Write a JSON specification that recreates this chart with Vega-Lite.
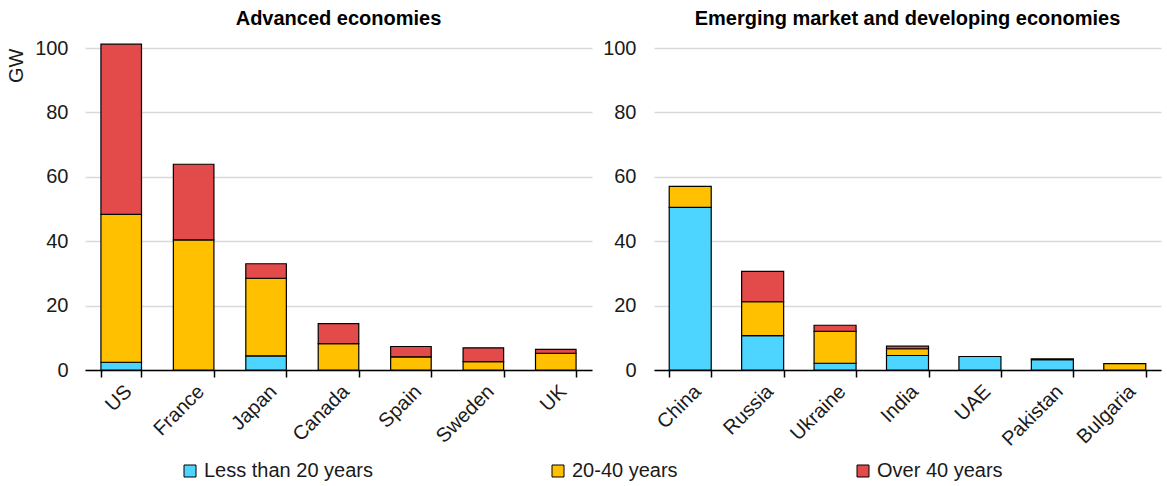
{
  "$schema": "https://vega.github.io/schema/vega-lite/v6.json",
  "background": "white",
  "padding": {"left": 6, "top": 9, "right": 5, "bottom": 5},
  "config": {
    "font": "Liberation Sans",
    "view": {"stroke": null},
    "concat": {"spacing": 10},
    "title": {"fontSize": 20, "fontWeight": "bold", "color": "black", "offset": 9},
    "axis": {"labelFont": "Liberation Sans", "labelFontSize": 20, "labelColor": "#1a1a1a", "titleFont": "Liberation Sans", "titleFontSize": 20, "titleFontWeight": "normal", "titleColor": "#1a1a1a"}
  },
  "datasets": {
    "adv": [
      {"country": "US", "age": "Less than 20 years", "k": 1, "gw": 2.4},
      {"country": "US", "age": "20-40 years", "k": 2, "gw": 45.9},
      {"country": "US", "age": "Over 40 years", "k": 3, "gw": 52.9},
      {"country": "France", "age": "20-40 years", "k": 2, "gw": 40.4},
      {"country": "France", "age": "Over 40 years", "k": 3, "gw": 23.5},
      {"country": "Japan", "age": "Less than 20 years", "k": 1, "gw": 4.4},
      {"country": "Japan", "age": "20-40 years", "k": 2, "gw": 24.1},
      {"country": "Japan", "age": "Over 40 years", "k": 3, "gw": 4.5},
      {"country": "Canada", "age": "20-40 years", "k": 2, "gw": 8.2},
      {"country": "Canada", "age": "Over 40 years", "k": 3, "gw": 6.2},
      {"country": "Spain", "age": "20-40 years", "k": 2, "gw": 4.1},
      {"country": "Spain", "age": "Over 40 years", "k": 3, "gw": 3.2},
      {"country": "Sweden", "age": "20-40 years", "k": 2, "gw": 2.6},
      {"country": "Sweden", "age": "Over 40 years", "k": 3, "gw": 4.3},
      {"country": "UK", "age": "20-40 years", "k": 2, "gw": 5.2},
      {"country": "UK", "age": "Over 40 years", "k": 3, "gw": 1.2}
    ],
    "emd": [
      {"country": "China", "age": "Less than 20 years", "k": 1, "gw": 50.5},
      {"country": "China", "age": "20-40 years", "k": 2, "gw": 6.5},
      {"country": "Russia", "age": "Less than 20 years", "k": 1, "gw": 10.7},
      {"country": "Russia", "age": "20-40 years", "k": 2, "gw": 10.5},
      {"country": "Russia", "age": "Over 40 years", "k": 3, "gw": 9.4},
      {"country": "Ukraine", "age": "Less than 20 years", "k": 1, "gw": 2.1},
      {"country": "Ukraine", "age": "20-40 years", "k": 2, "gw": 9.9},
      {"country": "Ukraine", "age": "Over 40 years", "k": 3, "gw": 1.9},
      {"country": "India", "age": "Less than 20 years", "k": 1, "gw": 4.5},
      {"country": "India", "age": "20-40 years", "k": 2, "gw": 2.1},
      {"country": "India", "age": "Over 40 years", "k": 3, "gw": 0.8},
      {"country": "UAE", "age": "Less than 20 years", "k": 1, "gw": 4.2},
      {"country": "Pakistan", "age": "Less than 20 years", "k": 1, "gw": 3.2},
      {"country": "Pakistan", "age": "20-40 years", "k": 2, "gw": 0.3},
      {"country": "Bulgaria", "age": "20-40 years", "k": 2, "gw": 2.0}
    ]
  },
  "hconcat": [
    {
      "data": {"name": "adv"},
      "title": "Advanced economies",
      "width": 507,
      "height": 322,
      "mark": {"type": "bar", "stroke": "black", "strokeWidth": 1.2},
      "encoding": {
        "x": {"field": "country", "type": "nominal", "sort": ["US", "France", "Japan", "Canada", "Spain", "Sweden", "UK"],
              "scale": {"paddingInner": 0.44, "paddingOuter": 0.22},
              "axis": {"title": null, "labelAngle": -45, "tickBand": "extent", "domainColor": "black", "domainWidth": 1.5, "tickColor": "black", "tickWidth": 1.5, "tickSize": 7, "labelPadding": 4}},
        "y": {"field": "gw", "type": "quantitative", "stack": "zero",
              "scale": {"domain": [0, 100], "nice": false},
              "axis": {"title": "GW", "titleAnchor": "end", "titlePadding": 8, "values": [0, 20, 40, 60, 80, 100], "domain": false, "ticks": false, "labelPadding": 17, "gridColor": "#d9d9d9", "gridWidth": 1.5}},
        "color": {"field": "age", "type": "nominal",
                  "scale": {"domain": ["Less than 20 years", "20-40 years", "Over 40 years"], "range": ["#4DD5FF", "#FFC000", "#E24B4A"]},
                  "legend": {"title": null, "orient": "none", "direction": "horizontal", "legendX": 95, "legendY": 413, "symbolType": "square", "symbolSize": 144, "symbolStrokeColor": "black", "symbolStrokeWidth": 1, "labelFontSize": 20, "labelFont": "Liberation Sans", "labelColor": "#1a1a1a", "labelLimit": 400, "columnPadding": 175, "symbolOffset": 0, "labelOffset": 4}},
        "order": {"field": "k", "type": "quantitative"}
      }
    },
    {
      "data": {"name": "emd"},
      "title": "Emerging market and developing economies",
      "width": 507,
      "height": 322,
      "mark": {"type": "bar", "stroke": "black", "strokeWidth": 1.2},
      "encoding": {
        "x": {"field": "country", "type": "nominal", "sort": ["China", "Russia", "Ukraine", "India", "UAE", "Pakistan", "Bulgaria"],
              "scale": {"paddingInner": 0.42, "paddingOuter": 0.21},
              "axis": {"title": null, "labelAngle": -45, "tickBand": "extent", "domainColor": "black", "domainWidth": 1.5, "tickColor": "black", "tickWidth": 1.5, "tickSize": 7, "labelPadding": 4}},
        "y": {"field": "gw", "type": "quantitative", "stack": "zero",
              "scale": {"domain": [0, 100], "nice": false},
              "axis": {"title": null, "values": [0, 20, 40, 60, 80, 100], "domain": false, "ticks": false, "labelPadding": 18, "gridColor": "#d9d9d9", "gridWidth": 1.5}},
        "color": {"field": "age", "type": "nominal",
                  "scale": {"domain": ["Less than 20 years", "20-40 years", "Over 40 years"], "range": ["#4DD5FF", "#FFC000", "#E24B4A"]},
                  "legend": null},
        "order": {"field": "k", "type": "quantitative"}
      }
    }
  ],
  "resolve": {"scale": {"color": "shared", "y": "independent", "x": "independent"}}
}
